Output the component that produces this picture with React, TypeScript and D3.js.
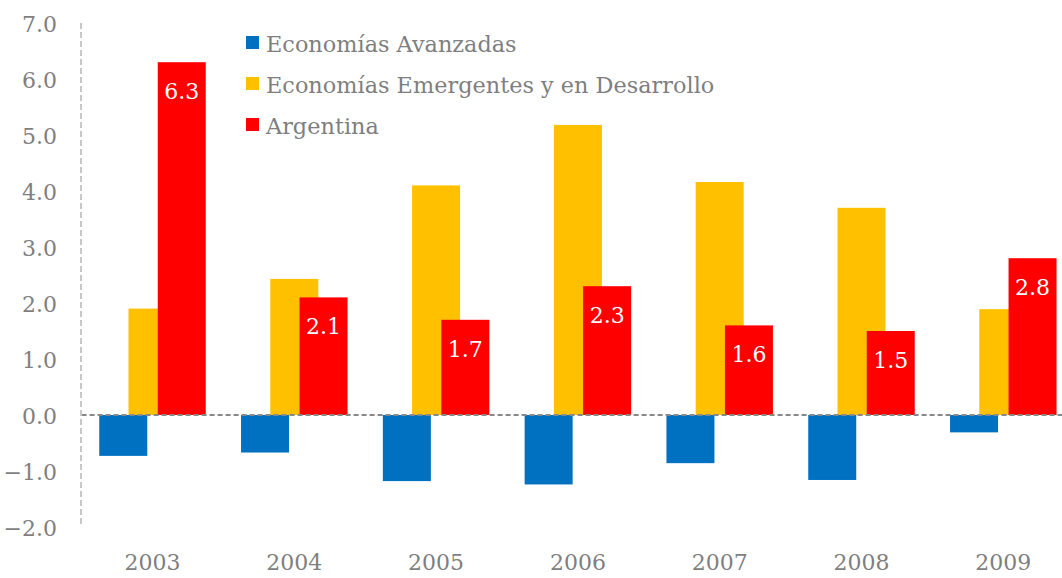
import React from "react";
import * as d3 from "d3";

const years = ["2003", "2004", "2005", "2006", "2007", "2008", "2009"];
const avanzadas = [-0.73, -0.67, -1.18, -1.24, -0.86, -1.16, -0.31];
const emergentes = [1.9, 2.43, 4.1, 5.18, 4.16, 3.7, 1.89];
const argentina = [6.3, 2.1, 1.7, 2.3, 1.6, 1.5, 2.8];
const seriesNames = ["Economías Avanzadas", "Economías Emergentes y en Desarrollo", "Argentina"];
const seriesColors = ["#0070C0", "#FFC000", "#FF0000"];
const yTicks = [-2, -1, 0, 1, 2, 3, 4, 5, 6, 7];

const W = 1062;
const H = 578;
const FONT = "'DejaVu Serif', Georgia, serif";
const TEXT = "#7f7f7f";

export default function App() {
  const plotLeft = 81.6;
  const step = 141.8;
  const x = d3.scaleBand<string>().domain(years).range([plotLeft, plotLeft + step * years.length]).padding(0);
  const y = d3.scaleLinear().domain([-2, 7]).range([527, 23]);
  const barW = 48;
  const offStep = 29.25;
  const groupW = barW + 2 * offStep;
  const series = [avanzadas, emergentes, argentina];

  return (
    <svg width={W} height={H} style={{ position: "absolute", left: 0, top: 0, background: "#fff" }} fontFamily={FONT}>
      {/* y tick labels */}
      {yTicks.map((t) => (
        <text key={t} x={57} y={y(t)} dy="0.4em" textAnchor="end" fontSize={22} fill={TEXT}>
          {d3.format(".1f")(t)}
        </text>
      ))}
      {/* bars */}
      {series.map((vals, si) =>
        vals.map((v, i) => {
          const c = (x(years[i]) as number) + x.bandwidth() / 2;
          const left = c - groupW / 2 + si * offStep;
          const y0 = y(0);
          const y1 = y(v);
          return (
            <rect
              key={`${si}-${i}`}
              x={left}
              y={Math.min(y0, y1)}
              width={barW}
              height={Math.abs(y1 - y0)}
              fill={seriesColors[si]}
            />
          );
        })
      )}
      {/* value labels Argentina */}
      {argentina.map((v, i) => {
        const c = (x(years[i]) as number) + x.bandwidth() / 2;
        const left = c - groupW / 2 + 2 * offStep;
        return (
          <text key={i} x={left + barW / 2} y={y(v) + 37} textAnchor="middle" fontSize={22} fill="#fff">
            {d3.format(".1f")(v)}
          </text>
        );
      })}
      {/* zero line */}
      <line x1={plotLeft} x2={W} y1={y(0)} y2={y(0)} stroke="#888888" strokeWidth={2} strokeDasharray="5,3" />
      {/* vertical axis */}
      <line x1={81} x2={81} y1={y(7)} y2={y(-2)} stroke="#c8c8c8" strokeWidth={2} strokeDasharray="6,3" />
      {/* x labels */}
      {years.map((yr) => (
        <text key={yr} x={(x(yr) as number) + x.bandwidth() / 2} y={570} textAnchor="middle" fontSize={22} fill={TEXT}>
          {yr}
        </text>
      ))}
      {/* legend */}
      {seriesNames.map((n, i) => {
        const cy = 43 + i * 41;
        return (
          <g key={n}>
            <rect x={246} y={cy - 7} width={13} height={13} fill={seriesColors[i]} />
            <text x={266} y={cy} dy="0.38em" fontSize={22.4} fill={TEXT}>
              {n}
            </text>
          </g>
        );
      })}
    </svg>
  );
}
